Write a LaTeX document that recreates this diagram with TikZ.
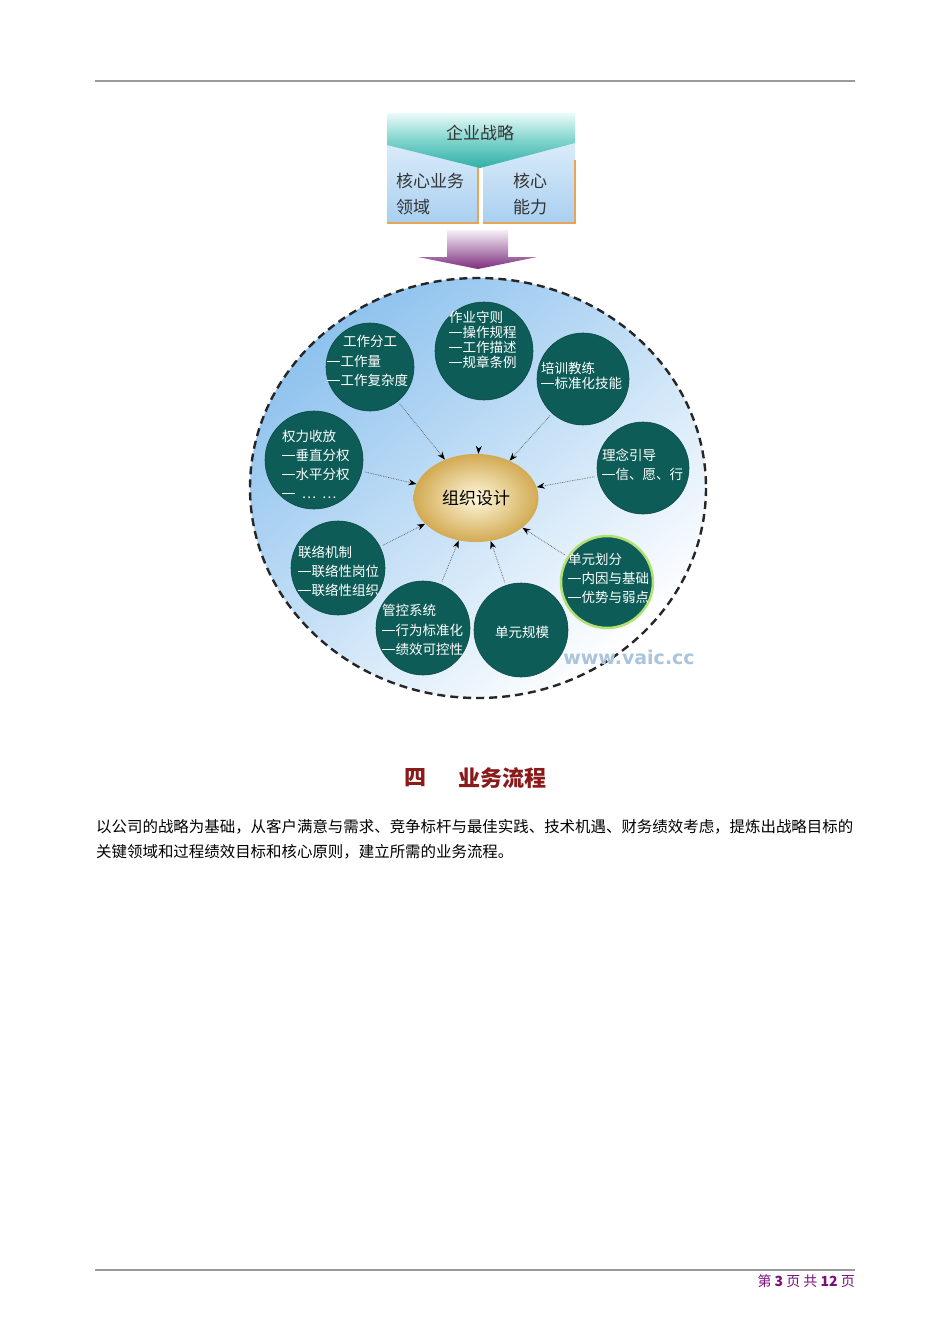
\documentclass[tikz,border=0pt]{standalone}
\usepackage{fontspec}
\setmainfont{Noto Sans CJK SC}
\newfontfamily\wmfont{DejaVu Sans}
\usetikzlibrary{shapes.geometric,arrows.meta}
\definecolor{tealc}{HTML}{0E5C57}
\definecolor{headred}{HTML}{8B1A1A}
\definecolor{footpurple}{HTML}{7B0F7B}
\definecolor{rulegray}{HTML}{9A9A9A}
\definecolor{boxorange}{HTML}{E8A557}
\definecolor{skyblue}{HTML}{8EC2EE}
\definecolor{boxtop}{HTML}{DCEDFA}
\definecolor{boxbot}{HTML}{A9CFF0}
\definecolor{bantop}{HTML}{EAFBF9}
\definecolor{banmid}{HTML}{7FD3CD}
\definecolor{banbot}{HTML}{2FAFA6}
\definecolor{arrtop}{HTML}{F6F0F7}
\definecolor{arrbot}{HTML}{7C2E7E}
\definecolor{goldin}{HTML}{FFF8DD}
\definecolor{goldout}{HTML}{D2AA52}
\definecolor{wmcol}{HTML}{A9C4DB}
\newcommand\cdash{\makebox[1em][l]{\rule[0.34em]{0.95em}{0.07em}}}
\begin{document}
\begin{tikzpicture}[x=1pt,y=-1pt,
  circ/.style={circle,fill=tealc,draw=tealc!80!black,line width=0.6pt,inner sep=0pt},
  ctext/.style={text=white,align=left,inner sep=0pt,anchor=west,font=\fontsize{13.5}{19.5}\selectfont},
  conn/.style={densely dotted,draw=black!65,line width=0.7pt,-{Stealth[length=8pt,width=6pt,black]},shorten <=3pt},
  boxtext/.style={text=black!80,inner sep=0pt,anchor=west,font=\fontsize{17}{26}\selectfont,align=left}]
\useasboundingbox[fill=white] (0,0) rectangle (950,1344);

% page rules
\draw[rulegray,line width=1.4pt] (95,81) -- (855,81);
\draw[rulegray,line width=1.4pt] (95,1270) -- (855,1270);

% lower boxes
\shade[top color=boxtop,bottom color=boxbot] (387,140) rectangle (478,223);
\shade[top color=boxtop,bottom color=boxbot] (483,140) rectangle (575,223);
\draw[boxorange,line width=2pt] (387,223) -- (478,223) -- (478,160);
\draw[boxorange,line width=2pt] (483,223) -- (575,223) -- (575,160);
% banner
\shade[top color=bantop,bottom color=banbot,middle color=banmid]
  (387,113) -- (575,113) -- (575,143) -- (480,168) -- (387,145) -- cycle;
\node[text=black!80,font=\fontsize{17}{17}\selectfont,inner sep=0pt] (strat) at (480,133) {企业战略};
\node[boxtext] (core1) at (396,194) {核心业务\\领域};
\node[boxtext] (core2) at (513,194) {核心\\能力};

% purple arrow
\shade[top color=arrtop,bottom color=arrbot]
  (447,230) -- (508,230) -- (508,257) -- (537,257) -- (478,269) -- (418,257) -- (447,257) -- cycle;

% big dashed ellipse
\shade[shading=axis,top color=skyblue,bottom color=white,shading angle=40]
  (478,488) ellipse [x radius=228,y radius=210];
\draw[black!85,line width=2.4pt,dash pattern=on 8pt off 5pt] (478,488) ellipse [x radius=228,y radius=210];

% watermark
\node[text=wmcol,font=\wmfont\bfseries\fontsize{19}{19}\selectfont,inner sep=0pt] (wm) at (629,657) {www.vaic.cc};

% center ellipse
\node[ellipse,minimum width=125pt,minimum height=88pt,inner sep=0pt,
  shading=radial,inner color=goldin,outer color=goldout,font=\fontsize{17}{17}\selectfont] (org) at (476,498) {组织设计};

% circles
\node[circ,minimum size=88pt] (c1) at (370,367) {};
\node[circ,minimum size=98pt] (c2) at (484,351) {};
\node[circ,minimum size=92pt] (c3) at (583,379) {};
\node[circ,minimum size=92pt] (c4) at (643,468) {};
\node[circ,minimum size=92pt,draw=yellow!50!green!60,line width=2.5pt] (c5) at (607,582) {};
\node[circ,minimum size=94pt] (c6) at (521,630) {};
\node[circ,minimum size=94pt] (c7) at (423,628) {};
\node[circ,minimum size=94pt] (c8) at (338,568) {};
\node[circ,minimum size=98pt] (c9) at (314,460) {};

% circle texts
\node[ctext] (t1) at (327,361) {\hspace{16pt}工作分工\\\cdash 工作量\\\cdash 工作复杂度};
\node[ctext,font=\fontsize{13.5}{15}\selectfont] (t2) at (449,339.5) {作业守则\\\cdash 操作规程\\\cdash 工作描述\\\cdash 规章条例};
\node[ctext,font=\fontsize{13.5}{15}\selectfont] (t3) at (541,375.5) {培训教练\\\cdash 标准化技能};
\node[ctext,font=\fontsize{13.5}{19}\selectfont] (t4) at (602,464.5) {理念引导\\\cdash 信、愿、行};
\node[ctext,font=\fontsize{13.5}{19}\selectfont] (t5) at (568,578) {单元划分\\\cdash 内因与基础\\\cdash 优势与弱点};
\node[text=white,inner sep=0pt,font=\fontsize{13.5}{19}\selectfont] (t6) at (522,632) {单元规模};
\node[ctext] (t7) at (382,630) {管控系统\\\cdash 行为标准化\\\cdash 绩效可控性};
\node[ctext,font=\fontsize{13.5}{19}\selectfont] (t8) at (298,571) {联络机制\\\cdash 联络性岗位\\\cdash 联络性组织};
\node[ctext,font=\fontsize{13.5}{19}\selectfont] (t9) at (282,464) {权力收放\\\cdash 垂直分权\\\cdash 水平分权\\\cdash\ \ …\ \ …};

% connectors
\draw[conn] (c1) -- (org);
\draw[conn,shorten <=50pt] (c2) -- (org);
\draw[conn] (c3) -- (org);
\draw[conn] (c4) -- (org);
\draw[conn] (c5) -- (org);
\draw[conn] (c6) -- (org);
\draw[conn] (c7) -- (org);
\draw[conn] (c8) -- (org);
\draw[conn] (c9) -- (org);

% heading
\node[text=headred,font=\bfseries\fontsize{22}{22}\selectfont,inner sep=0pt] (h1) at (415,778) {四};
\node[text=headred,font=\bfseries\fontsize{22}{22}\selectfont,inner sep=0pt] (h2) at (502,778) {业务流程};

% body
\node[anchor=west,inner sep=0pt,font=\fontsize{15.45}{15.45}\selectfont] (p1) at (96,827) {以公司的战略为基础，从客户满意与需求、竞争标杆与最佳实践、技术机遇、财务绩效考虑，提炼出战略目标的};
\node[anchor=west,inner sep=0pt,font=\fontsize{15.45}{15.45}\selectfont] (p2) at (96,852) {关键领域和过程绩效目标和核心原则，建立所需的业务流程。};

% footer
\node[anchor=east,inner sep=0pt,text=footpurple,font=\fontsize{14}{14}\selectfont] (foot) at (855,1281) {第 \textbf{3} 页 共 \textbf{12} 页};
\end{tikzpicture}
\end{document}
